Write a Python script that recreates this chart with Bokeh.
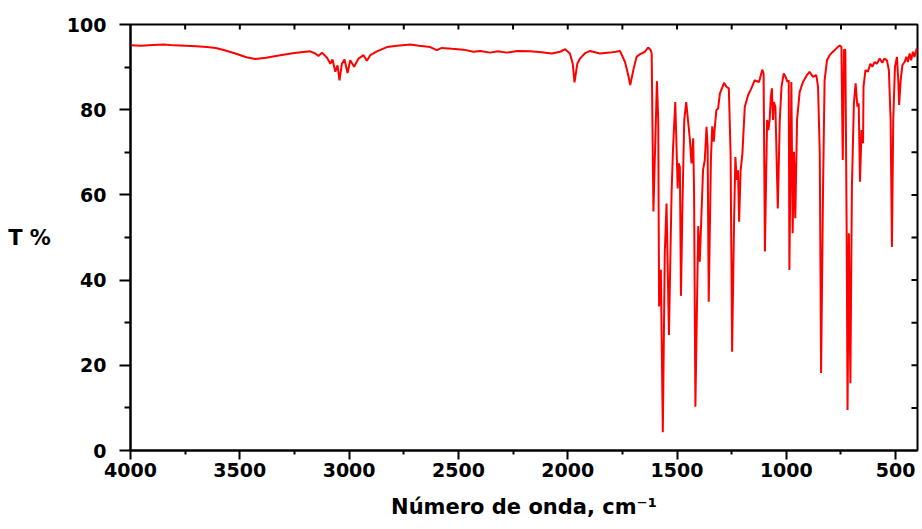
import math
from bokeh.plotting import figure
from bokeh.models import Range1d, FixedTicker, LinearAxis, ColumnDataSource
from bokeh.embed import file_html
from bokeh.resources import INLINE

# IR spectrum (wavenumber in cm-1, transmittance in %)
wavenumber = [
    4000, 3950, 3900, 3848, 3800, 3750, 3700, 3650, 3610, 3574, 3520, 3470, 3429, 3380,
    3315, 3250, 3178, 3155, 3140, 3124, 3101, 3086, 3076, 3063, 3053, 3044, 3033, 3021,
    3007, 2995, 2977, 2957, 2934, 2919, 2903, 2873, 2827, 2780, 2721, 2680, 2629, 2599,
    2576, 2530, 2477, 2431, 2400, 2355, 2320, 2279, 2230, 2172, 2120, 2073, 2035, 2012,
    1990, 1977, 1969, 1956, 1944, 1920, 1898, 1853, 1807, 1780, 1761, 1738, 1723, 1714,
    1700, 1685, 1670, 1647, 1632, 1621, 1616, 1608, 1592, 1586, 1582, 1574, 1565, 1556,
    1548, 1537, 1525, 1518, 1508, 1497, 1493, 1487, 1482, 1475, 1467, 1458, 1441, 1434,
    1426, 1422, 1416, 1403, 1396, 1381, 1373, 1365, 1360, 1355, 1345, 1339, 1332, 1327,
    1320, 1312, 1304, 1285, 1274, 1263, 1255, 1248, 1239, 1233, 1227, 1221, 1216, 1209,
    1201, 1190, 1175, 1160, 1145, 1125, 1110, 1104, 1098, 1088, 1082, 1076, 1071, 1066,
    1061, 1057, 1050, 1039, 1030, 1022, 1012, 1003, 995, 989, 986, 977, 971, 965,
    959, 951, 939, 924, 906, 894, 878, 863, 855, 847, 841, 832, 825, 814,
    802, 787, 771, 756, 748, 742, 736, 730, 724, 720, 714, 707, 700, 691,
    683, 675, 669, 663, 656, 649, 647, 638, 627, 616, 607, 596, 586, 573,
    561, 551, 540, 531, 523, 517, 511, 503, 494, 488, 484, 477, 469, 459,
    451, 444, 436, 429, 421, 414, 403,
]
transmittance = [
    95.1, 95.0, 95.2, 95.3, 95.1, 95.0, 94.9, 94.7, 94.5, 94.0, 93.2, 92.3, 91.9, 92.2,
    92.8, 93.3, 93.7, 93.2, 92.6, 93.4, 92.2, 90.8, 91.8, 88.9, 90.4, 86.9, 90.8, 91.8,
    88.6, 91.6, 90.1, 92.0, 92.8, 91.5, 92.8, 93.7, 94.7, 95.0, 95.3, 95.0, 94.7, 94.0,
    94.5, 94.3, 94.1, 93.6, 93.8, 93.4, 93.7, 93.4, 93.8, 93.7, 93.5, 93.2, 93.6, 94.2,
    93.2, 90.8, 86.4, 90.8, 92.0, 93.3, 93.8, 93.2, 93.4, 93.6, 93.8, 91.2, 88.1, 85.8,
    89.3, 92.4, 93.0, 93.6, 94.6, 94.0, 93.2, 56.1, 86.7, 77.6, 33.8, 42.4, 4.3, 46.3,
    58.0, 27.1, 60.4, 71.3, 81.8, 61.5, 67.4, 66.6, 36.3, 58.0, 77.6, 81.8, 72.9, 67.4,
    73.3, 60.4, 10.3, 52.7, 44.3, 65.8, 68.2, 76.0, 71.3, 34.9, 68.2, 76.1, 72.5, 76.0,
    79.9, 80.3, 83.8, 86.3, 85.4, 85.0, 69.7, 23.2, 54.1, 68.9, 63.5, 65.8, 53.7, 65.8,
    69.7, 80.7, 83.4, 85.0, 86.9, 86.5, 89.4, 88.5, 46.7, 77.6, 75.2, 77.9, 83.0, 85.0,
    77.6, 81.8, 80.7, 56.8, 77.6, 85.4, 88.5, 87.7, 86.5, 86.9, 42.4, 86.5, 51.0, 70.1,
    54.5, 77.6, 84.2, 86.5, 88.1, 88.9, 87.7, 88.1, 85.4, 69.7, 18.2, 61.9, 86.9, 91.6,
    92.8, 93.6, 94.4, 95.1, 94.7, 68.2, 94.1, 94.0, 51.0, 9.5, 51.0, 15.8, 61.9, 81.5,
    86.2, 80.7, 81.5, 63.1, 75.2, 72.1, 85.4, 89.3, 88.9, 90.8, 90.1, 91.2, 90.8, 92.0,
    91.0, 92.0, 91.6, 89.3, 77.6, 47.8, 77.6, 90.1, 92.4, 86.9, 81.1, 86.9, 90.5, 91.2,
    92.4, 91.2, 93.2, 91.6, 93.6, 92.4, 94.4,
]

x_start, x_end = 4000, 400
y_start, y_end = 0, 100
x_major_ticks = [4000, 3500, 3000, 2500, 2000, 1500, 1000, 500]
x_minor_ticks = [3750, 3250, 2750, 2250, 1750, 1250, 750]
y_major_ticks = [0, 20, 40, 60, 80, 100]
y_minor_ticks = [10, 30, 50, 70, 90]
x_label = "Número de onda, cm⁻¹"
y_label = "T %"

FONT = "DejaVu Sans"

p = figure(frame_width=787, frame_height=426,
           x_range=Range1d(x_start, x_end), y_range=Range1d(y_start, y_end),
           output_backend="svg", toolbar_location=None,
           min_border_left=130, min_border_top=24, min_border_right=2, min_border_bottom=0,
           x_axis_location=None, y_axis_location=None)
p.grid.visible = False
p.outline_line_color = "black"
p.outline_line_width = 2
p.background_fill_color = "white"
p.border_fill_color = "white"

src = ColumnDataSource(data=dict(wn=wavenumber, t=transmittance))
p.line(x="wn", y="t", source=src, line_color="#ff0000", line_width=2)

# mirrored inward tick marks on the top and right frame edges
top_ticks = x_major_ticks[1:] + x_minor_ticks
right_ticks = y_major_ticks[1:-1] + y_minor_ticks
p.ray(x=top_ticks, y=[y_end] * len(top_ticks), length=5, length_units="screen",
      angle=-math.pi / 2, line_color="black", line_width=2)
p.ray(x=[x_end] * len(right_ticks), y=right_ticks, length=6, length_units="screen",
      angle=math.pi, line_color="black", line_width=2)

def style_axis(ax):
    ax.axis_line_width = 2
    ax.axis_line_color = "black"
    ax.major_tick_line_width = 2
    ax.minor_tick_line_width = 2
    ax.major_tick_line_color = "black"
    ax.minor_tick_line_color = "black"
    ax.major_label_text_font = FONT
    ax.major_label_text_font_style = "bold"
    ax.major_label_text_font_size = "19px"
    ax.major_label_text_color = "black"
    ax.axis_label_text_font = FONT
    ax.axis_label_text_font_style = "bold"
    ax.axis_label_text_font_size = "21px"
    ax.axis_label_text_color = "black"

xb = LinearAxis(ticker=FixedTicker(ticks=x_major_ticks, minor_ticks=x_minor_ticks),
                axis_label=x_label)
style_axis(xb)
xb.major_tick_out = 9
xb.major_tick_in = 0
xb.minor_tick_out = 4
xb.minor_tick_in = 0
xb.major_label_standoff = 3
xb.axis_label_standoff = 15
p.add_layout(xb, "below")

yl = LinearAxis(ticker=FixedTicker(ticks=y_major_ticks, minor_ticks=y_minor_ticks),
                axis_label=y_label)
style_axis(yl)
yl.major_tick_out = 11
yl.major_tick_in = 0
yl.minor_tick_out = 6
yl.minor_tick_in = 0
yl.major_label_standoff = 13
yl.axis_label_standoff = 13
yl.axis_label_orientation = "horizontal"
p.add_layout(yl, "left")

open("out.html", "w").write(file_html(p, INLINE))
